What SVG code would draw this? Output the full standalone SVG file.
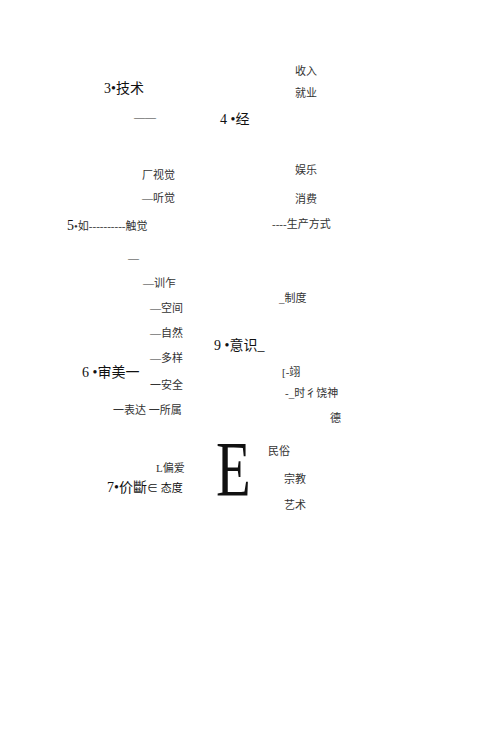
<svg xmlns="http://www.w3.org/2000/svg" width="500" height="739" viewBox="0 0 500 739">
<style>
text{font-family:"Liberation Serif","Noto Sans CJK SC",serif;fill:#333;}
.s{font-size:11px;}
.h{font-size:14px;fill:#111;}
</style>
<rect width="500" height="739" fill="#fff"/>
<g id="labels">
<text class="s" x="295" y="75">收入</text>
<text class="s" x="295" y="97">就业</text>
<text class="h" x="104" y="93">3•技术</text>
<text class="s" x="134" y="121">——</text>
<text class="h" x="220" y="124">4 •经</text>
<text class="s" x="295" y="174">娱乐</text>
<text class="s" x="142" y="179">厂视觉</text>
<text class="s" x="295" y="203">消费</text>
<text class="s" x="142" y="202">—听觉</text>
<text class="s" x="67" y="230"><tspan class="h">5</tspan>•如----------触觉</text>
<text class="s" x="272" y="228">----生产方式</text>
<text class="s" x="128" y="262">—</text>
<text class="s" x="143" y="287">—训乍</text>
<text class="s" x="279" y="302">_制度</text>
<text class="s" x="150" y="312">—空间</text>
<text class="s" x="150" y="337">—自然</text>
<text class="h" x="214" y="350">9 •意识_</text>
<text class="s" x="150" y="362">—多样</text>
<text class="h" x="82" y="377">6 •审美一</text>
<text class="s" x="282" y="376">[-翊</text>
<text class="s" x="150" y="389">一安全</text>
<text class="s" x="285" y="397">-_时彳饶神</text>
<text class="s" x="113" y="414">一表达 一所属</text>
<text class="s" x="330" y="422">德</text>
<text x="216" y="495" style="font-size:79px;fill:#111" transform="translate(216 0) scale(0.72 1) translate(-216 0)">E</text>
<text class="s" x="268" y="455">民俗</text>
<text class="s" x="156" y="472">L偏爱</text>
<text class="s" x="284" y="483">宗教</text>
<text class="h" x="107" y="492">7•价斷<tspan class="s">∈ 态度</tspan></text>
<text class="s" x="284" y="509">艺术</text>
</g>
</svg>
